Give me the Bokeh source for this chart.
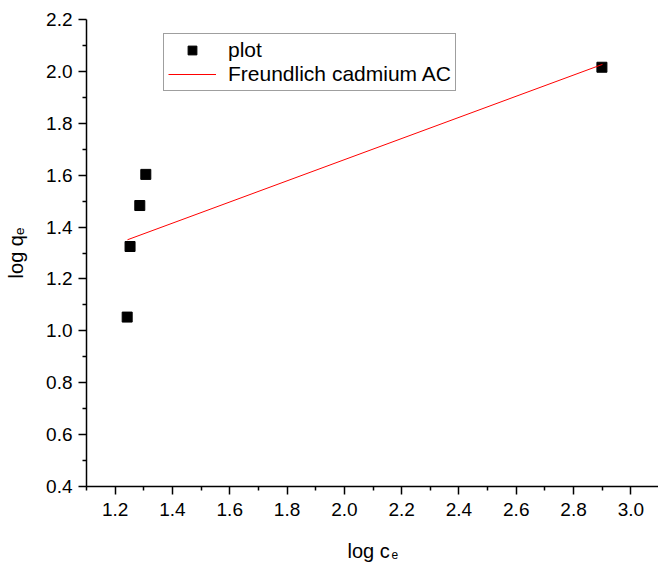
import math
from bokeh.plotting import figure
from bokeh.layouts import column
from bokeh.models import Range1d, FixedTicker, NumeralTickFormatter, Legend, LegendItem
from bokeh.core.properties import value
from bokeh.embed import file_html
from bokeh.resources import INLINE

# data
log_ce = [1.242, 1.252, 1.286, 1.307, 2.899]
log_qe = [1.053, 1.325, 1.483, 1.603, 2.016]
fit_x = [1.243, 2.901]
fit_y = [1.351, 2.027]

x_ticks = [1.2, 1.4, 1.6, 1.8, 2.0, 2.2, 2.4, 2.6, 2.8, 3.0]
x_minor = [1.1, 1.3, 1.5, 1.7, 1.9, 2.1, 2.3, 2.5, 2.7, 2.9]
y_ticks = [0.4, 0.6, 0.8, 1.0, 1.2, 1.4, 1.6, 1.8, 2.0, 2.2]
y_minor = [0.5, 0.7, 0.9, 1.1, 1.3, 1.5, 1.7, 1.9, 2.1]

x_title = "log c"
y_title = "log q\u2091"
subscript = "e"
legend_labels = ["plot", "Freundlich cadmium AC"]

FONT = "Liberation Sans"

p = figure(width=658, height=530, output_backend="svg", toolbar_location=None,
           x_range=Range1d(1.1, 3.0965), y_range=Range1d(0.4, 2.2),
           min_border_left=86, min_border_top=19, min_border_right=0, min_border_bottom=44)
p.title.visible = False
p.xgrid.visible = False
p.ygrid.visible = False
p.outline_line_color = None
p.background_fill_color = "white"
p.border_fill_color = "white"

p.xaxis.ticker = FixedTicker(ticks=x_ticks, minor_ticks=x_minor)
p.yaxis.ticker = FixedTicker(ticks=y_ticks, minor_ticks=y_minor)
for ax, standoff in ((p.xaxis, 8), (p.yaxis, 6)):
    ax.formatter = NumeralTickFormatter(format="0.0")
    ax.major_tick_out = 8
    ax.major_tick_in = 0
    ax.minor_tick_out = 4
    ax.minor_tick_in = 0
    ax.axis_line_width = 1.5
    ax.major_tick_line_width = 1.5
    ax.minor_tick_line_width = 1.5
    ax.axis_line_color = "black"
    ax.major_tick_line_color = "black"
    ax.minor_tick_line_color = "black"
    ax.major_label_text_font = FONT
    ax.major_label_text_font_size = "19px"
    ax.major_label_text_color = "black"
    ax.major_label_standoff = standoff

p.yaxis.axis_label = y_title
p.yaxis.axis_label_text_font = FONT
p.yaxis.axis_label_text_font_size = "20px"
p.yaxis.axis_label_text_font_style = "normal"
p.yaxis.axis_label_text_color = "black"
p.yaxis.axis_label_standoff = 16

sq = p.scatter(log_ce, log_qe, marker="square", size=10, color="black")
ln = p.line(fit_x, fit_y, line_color="#ff0000", line_width=1)

legend = Legend(items=[LegendItem(label=legend_labels[0], renderers=[sq]),
                       LegendItem(label=legend_labels[1], renderers=[ln])],
                location=(77, 395), orientation="vertical",
                label_text_font=FONT, label_text_font_size="21px", label_text_color="black",
                glyph_width=48, glyph_height=22, label_height=22, label_standoff=12,
                spacing=0, padding=4, margin=0,
                border_line_color="#404040", border_line_width=1,
                background_fill_color="white", background_fill_alpha=1)
p.add_layout(legend)

# x-axis title: strip whose frame matches the main frame horizontally (86..658)
xlab = figure(width=658, height=32, output_backend="svg", toolbar_location=None,
              x_axis_location=None, y_axis_location=None,
              x_range=Range1d(0, 572), y_range=Range1d(0, 32),
              min_border_left=86, min_border_right=0, min_border_top=0, min_border_bottom=0)
xlab.title.visible = False
xlab.grid.visible = False
xlab.outline_line_color = None
xlab.background_fill_color = "white"
xlab.border_fill_color = "white"
xlab.text(x=[261], y=[12], text=[x_title],
          text_font=value(FONT), text_font_size="20px", text_color="black",
          text_align="left", text_baseline="alphabetic")
xlab.text(x=[305], y=[8], text=[subscript],
          text_font=value(FONT), text_font_size="12px", text_color="black",
          text_align="left", text_baseline="alphabetic")

layout = column(p, xlab, spacing=0)

open("out.html", "w").write(file_html(layout, INLINE))
